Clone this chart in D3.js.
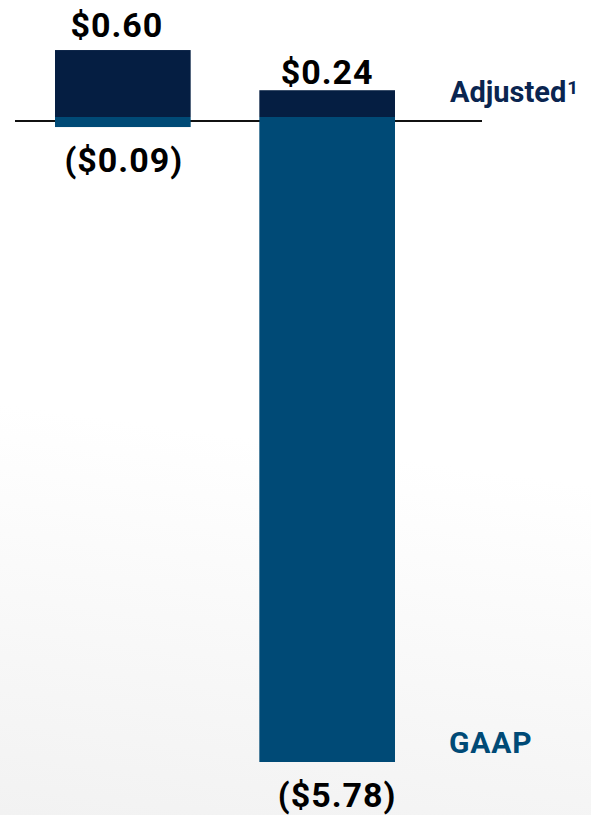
<!DOCTYPE html>
<html>
<head>
<meta charset="utf-8">
<script src="https://cdn.jsdelivr.net/npm/d3@7"></script>
<style>
  body { margin: 0; background: #fff; }
  svg text { font-family: Roboto, "Liberation Sans", sans-serif; font-weight: 700; }
</style>
</head>
<body>
<div id="container"></div>
<script>
/* CONSTANTS AND GLOBALS */
const width = 591,
  height = 815;

/* DATA */
const groups = ["Period 1", "Period 2"];
const adjusted = [0.60, 0.24];
const gaap = [-0.09, -5.78];
const adjustedLabels = ["$0.60", "$0.24"];
const gaapLabels = ["($0.09)", ("($5.78)")];

const colors = { adjusted: "#051e42", gaap: "#004a76" };

// small hand nudges for the value labels, as on the slide
const adjNudge = [{ dx: -6, dy: -13 }, { dx: 0, dy: -6 }];
const gaapNudge = [{ dx: 1, dy: 45 }, { dx: 10, dy: 45 }];

/* SCALES */
const xScale = d3.scaleBand()
  .domain(groups)
  .range([55, 395])
  .paddingInner(0.336)
  .paddingOuter(0);

const yScale = d3.scaleLinear()
  .domain([0, -5.78])
  .range([117, 762]);

const svg = d3.select("#container")
  .append("svg")
  .attr("width", width)
  .attr("height", height);

// faint grey wash in the lower part of the slide
const defs = svg.append("defs");
const grad = defs.append("linearGradient")
  .attr("id", "bg")
  .attr("x1", "0.1").attr("y1", "0")
  .attr("x2", "0").attr("y2", "1");
grad.append("stop").attr("offset", "0.5").attr("stop-color", "#ffffff");
grad.append("stop").attr("offset", "1").attr("stop-color", "#f2f2f2");

svg.append("rect")
  .attr("width", width)
  .attr("height", height)
  .attr("fill", "url(#bg)");

// zero line
svg.append("line")
  .attr("x1", 15)
  .attr("x2", 482)
  .attr("y1", yScale(0) + 4)
  .attr("y2", yScale(0) + 4)
  .attr("stroke", "#111")
  .attr("stroke-width", 1.8);

const rows = groups.map((g, i) => ({
  g, adj: adjusted[i], gaap: gaap[i],
  adjLabel: adjustedLabels[i], gaapLabel: gaapLabels[i],
  an: adjNudge[i], gn: gaapNudge[i]
}));

// adjusted bars (positive)
svg.selectAll("rect.adj")
  .data(rows)
  .join("rect")
  .attr("class", "adj")
  .attr("x", d => xScale(d.g))
  .attr("width", xScale.bandwidth())
  .attr("y", d => yScale(d.adj))
  .attr("height", d => yScale(0) - yScale(d.adj))
  .attr("fill", colors.adjusted);

// GAAP bars (negative)
svg.selectAll("rect.gaap")
  .data(rows)
  .join("rect")
  .attr("class", "gaap")
  .attr("x", d => xScale(d.g))
  .attr("width", xScale.bandwidth())
  .attr("y", yScale(0))
  .attr("height", d => yScale(d.gaap) - yScale(0))
  .attr("fill", colors.gaap);

// value labels
svg.selectAll("text.adj-label")
  .data(rows)
  .join("text")
  .attr("class", "adj-label")
  .attr("x", d => xScale(d.g) + xScale.bandwidth() / 2 + d.an.dx)
  .attr("y", d => yScale(d.adj) + d.an.dy)
  .attr("text-anchor", "middle")
  .attr("font-size", 34)
  .attr("letter-spacing", 1)
  .attr("fill", "#000")
  .text(d => d.adjLabel);

svg.selectAll("text.gaap-label")
  .data(rows)
  .join("text")
  .attr("class", "gaap-label")
  .attr("x", d => xScale(d.g) + xScale.bandwidth() / 2 + d.gn.dx)
  .attr("y", d => yScale(d.gaap) + d.gn.dy)
  .attr("text-anchor", "middle")
  .attr("font-size", 34)
  .attr("letter-spacing", 1)
  .attr("fill", "#000")
  .text(d => d.gaapLabel);

// series labels on the right
const adjText = svg.append("text")
  .attr("x", 450)
  .attr("y", 102)
  .attr("font-size", 29)
  .attr("fill", "#0a2550")
  .text("Adjusted");
adjText.append("tspan")
  .attr("font-size", 19)
  .attr("dx", 1)
  .attr("dy", -8)
  .text("1");

svg.append("text")
  .attr("x", 449)
  .attr("y", 753)
  .attr("font-size", 30)
  .attr("letter-spacing", 0.8)
  .attr("fill", colors.gaap)
  .text("GAAP");
</script>
</body>
</html>
